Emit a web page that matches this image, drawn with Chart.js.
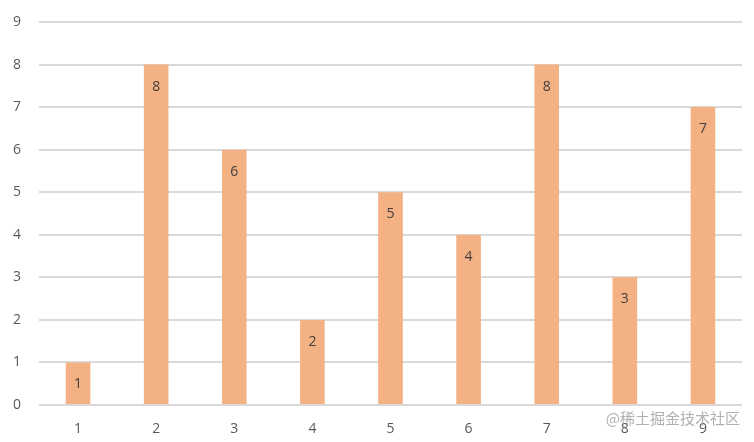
<!DOCTYPE html>
<html>
<head>
<meta charset="utf-8">
<script src="https://cdn.jsdelivr.net/npm/chart.js@4/dist/chart.umd.min.js"></script>
<style>
html,body{margin:0;padding:0;background:#fff;}
#wrap{width:754px;height:442px;position:relative;}
</style>
</head>
<body>
<div id="wrap"><canvas id="c" width="754" height="442"></canvas></div>
<script>
const categories = ['1','2','3','4','5','6','7','8','9'];
const values = [1, 8, 6, 2, 5, 4, 8, 3, 7];
const yTicks = [0,1,2,3,4,5,6,7,8,9];
const watermark = '@稀土掘金技术社区';

const labelPlugin = {
  id: 'barLabels',
  afterDatasetsDraw(chart) {
    const ctx = chart.ctx;
    const meta = chart.getDatasetMeta(0);
    ctx.save();
    ctx.font = '14px "Open Sans", "Noto Sans", sans-serif';
    ctx.fillStyle = '#404040';
    ctx.textAlign = 'center';
    ctx.textBaseline = 'middle';
    meta.data.forEach((bar, i) => {
      ctx.fillText(String(values[i]), bar.x, bar.y + 22);
    });
    ctx.restore();
  },
  afterDraw(chart) {
    const ctx = chart.ctx;
    ctx.save();
    ctx.font = '15px "Noto Sans CJK SC", sans-serif';
    ctx.fillStyle = 'rgba(150,150,150,0.75)';
    ctx.textAlign = 'right';
    ctx.textBaseline = 'middle';
    ctx.fillText(watermark, 740, 418);
    ctx.restore();
  }
};

new Chart(document.getElementById('c'), {
  type: 'bar',
  data: {
    labels: categories,
    datasets: [{
      data: values,
      backgroundColor: '#F4B183',
      borderWidth: 0,
      barPercentage: 1,
      categoryPercentage: 0.315
    }]
  },
  options: {
    responsive: false,
    animation: false,
    layout: { padding: { top: 0, right: 12, left: 0, bottom: 0 } },
    plugins: { legend: { display: false }, tooltip: { enabled: false } },
    scales: {
      x: {
        grid: { display: false, drawTicks: false },
        border: { display: false },
        ticks: { color: '#595959', font: { family: '"Open Sans", "Noto Sans", sans-serif', size: 14 }, padding: 16 },
        afterFit(scale) { scale.height = 37; }
      },
      y: {
        min: 0, max: 9,
        afterBuildTicks(scale) { scale.ticks = yTicks.map(v => ({ value: v })); },
        grid: { color: '#d9d9d9', lineWidth: 2, drawTicks: false },
        border: { display: false },
        ticks: { color: '#595959', font: { family: '"Open Sans", "Noto Sans", sans-serif', size: 14 }, padding: 18 },
        afterFit(scale) { scale.width = 39; scale.paddingTop = 22; }
      }
    }
  },
  plugins: [labelPlugin]
});
</script>
</body>
</html>
